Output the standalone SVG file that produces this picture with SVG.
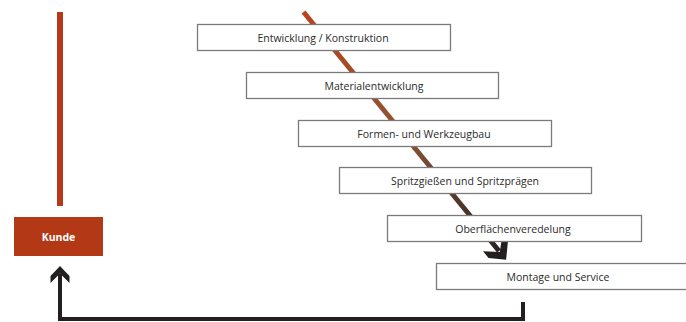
<svg xmlns="http://www.w3.org/2000/svg" width="686" height="322" viewBox="0 0 686 322">
<style>
.box{fill:#fff;stroke:#7b7b7b;stroke-width:1.3}
.lbl{font-family:"Open Sans",Lato,"Liberation Sans",sans-serif;font-size:10.5px;fill:#2b2b2b;text-anchor:middle}
.kunde{font-family:"Open Sans",Lato,"Liberation Sans",sans-serif;font-size:10.5px;font-weight:bold;fill:#fff;text-anchor:middle}
.dark{fill:none;stroke:#231f20;stroke-width:4}
</style>
<defs>
<linearGradient id="g" gradientUnits="userSpaceOnUse" x1="305" y1="12" x2="505" y2="258">
<stop offset="0" stop-color="#b8441a"/>
<stop offset="0.5" stop-color="#8a5536"/>
<stop offset="1" stop-color="#231f20"/>
</linearGradient>
<marker id="chev" markerUnits="userSpaceOnUse" markerWidth="30" markerHeight="30" viewBox="-12 -12 24 24" refX="0" refY="0" orient="auto" overflow="visible">
<path d="M9,0 L-1,-10 L-8,-10 L1,0 L-8,10 L-1,10 Z" fill="#231f20"/>
</marker>
</defs>
<g id="connectors">
<line x1="303.5" y1="12" x2="499" y2="251" stroke="url(#g)" stroke-width="5" marker-end="url(#chev)"/>
<polyline class="dark" points="523,302 523,319 60,319 60,274"/>
<path d="M60,266 L69.5,276 L69.5,283 L60,273.5 L50.5,283 L50.5,276 Z" fill="#231f20"/>
</g>
<g id="bar"><rect x="57" y="12" width="6" height="194" fill="#b5391a"/></g>
<g id="kunde">
<rect x="14" y="217" width="89" height="39" fill="#b33816"/>
<text class="kunde" x="58.5" y="240.5">Kunde</text>
</g>
<g id="n1"><rect class="box" x="197.5" y="24.5" width="253" height="26"/><text class="lbl" x="323" y="41.5">Entwicklung / Konstruktion</text></g>
<g id="n2"><rect class="box" x="246.5" y="72.5" width="252" height="26"/><text class="lbl" x="374" y="89.5">Materialentwicklung</text></g>
<g id="n3"><rect class="box" x="298.5" y="120.5" width="253" height="26"/><text class="lbl" x="424" y="137.5">Formen- und Werkzeugbau</text></g>
<g id="n4"><rect class="box" x="339.5" y="167.5" width="252" height="26"/><text class="lbl" x="465" y="184.5">Spritzgießen und Spritzprägen</text></g>
<g id="n5"><rect class="box" x="387.5" y="215.5" width="254" height="26"/><text class="lbl" x="513" y="232.5">Oberflächenveredelung</text></g>
<g id="n6"><rect class="box" x="436.5" y="263.5" width="262" height="26"/><text class="lbl" x="558" y="280.5">Montage und Service</text></g>
</svg>
